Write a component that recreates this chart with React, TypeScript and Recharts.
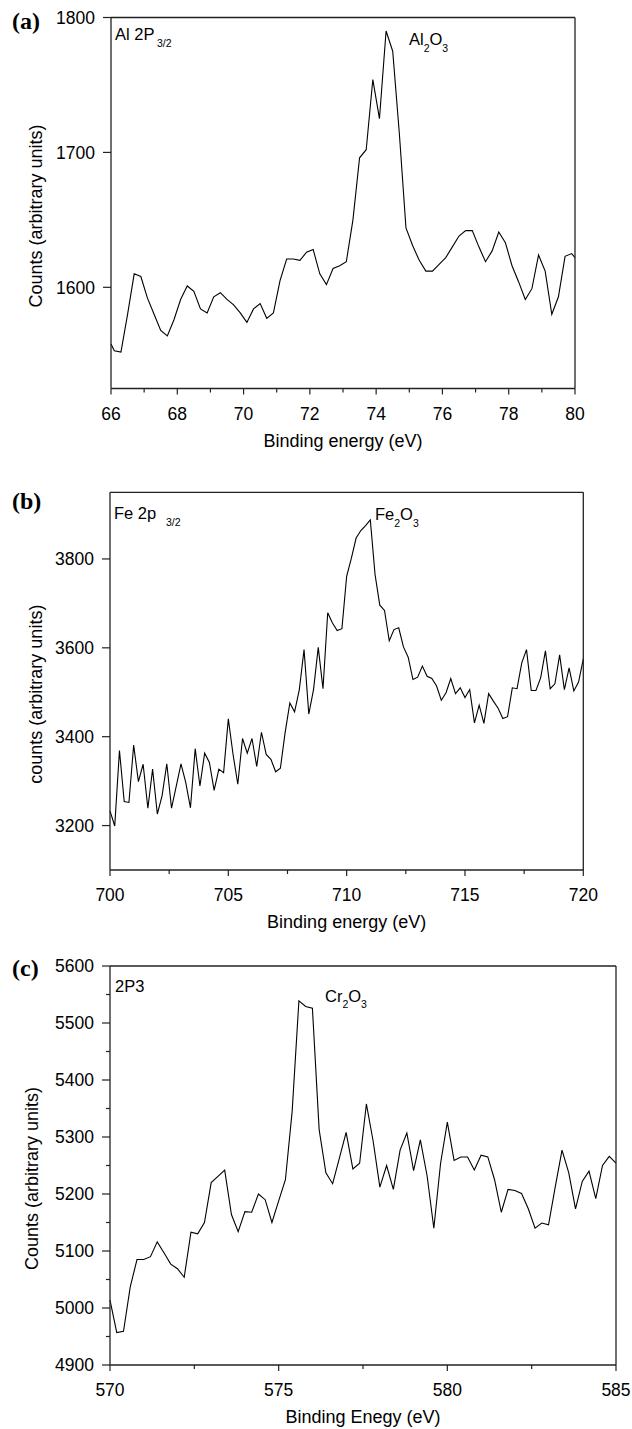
import React from "react";
import { LineChart, Line, XAxis, YAxis } from "recharts";

// (a) Al 2p region
const AL_EV = [
  66.0, 66.1, 66.3, 66.5, 66.7, 66.9, 67.1, 67.3, 67.5, 67.7, 67.9, 68.1, 68.3, 68.5, 68.7, 68.9,
  69.1, 69.3, 69.5, 69.7, 69.9, 70.1, 70.3, 70.5, 70.7, 70.9, 71.1, 71.3, 71.5, 71.7, 71.9, 72.1,
  72.3, 72.5, 72.7, 72.9, 73.1, 73.3, 73.5, 73.7, 73.9, 74.1, 74.3, 74.5, 74.7, 74.9, 75.1, 75.3,
  75.5, 75.7, 75.9, 76.1, 76.3, 76.5, 76.7, 76.9, 77.1, 77.3, 77.5, 77.7, 77.9, 78.1, 78.3, 78.5,
  78.7, 78.9, 79.1, 79.3, 79.5, 79.7, 79.9, 80.0,
];
const AL_COUNTS = [
  1558, 1553, 1552, 1580, 1610, 1608, 1592, 1580, 1568, 1564, 1576, 1591, 1601, 1597, 1584, 1581,
  1593, 1596, 1591, 1587, 1581, 1574, 1584, 1588, 1577, 1581, 1605, 1621, 1621, 1620, 1626, 1628,
  1610, 1602, 1614, 1616, 1619, 1650, 1696, 1702, 1754, 1725, 1790, 1775, 1714, 1644, 1631, 1620,
  1612, 1612, 1617, 1622, 1630, 1638, 1642, 1642, 1630, 1619, 1627, 1641, 1633, 1616, 1604, 1591,
  1599, 1624, 1612, 1580, 1593, 1623, 1625, 1622,
];

// (b) Fe 2p region
const FE_EV = [
  700.0, 700.2, 700.4, 700.6, 700.8, 701.0, 701.2, 701.4, 701.6, 701.8, 702.0, 702.2, 702.4, 702.6,
  702.8, 703.0, 703.2, 703.4, 703.6, 703.8, 704.0, 704.2, 704.4, 704.6, 704.8, 705.0, 705.2, 705.4,
  705.6, 705.8, 706.0, 706.2, 706.4, 706.6, 706.8, 707.0, 707.2, 707.4, 707.6, 707.8, 708.0, 708.2,
  708.4, 708.6, 708.8, 709.0, 709.2, 709.4, 709.6, 709.8, 710.0, 710.2, 710.4, 710.6, 710.8, 711.0,
  711.2, 711.4, 711.6, 711.8, 712.0, 712.2, 712.4, 712.6, 712.8, 713.0, 713.2, 713.4, 713.6, 713.8,
  714.0, 714.2, 714.4, 714.6, 714.8, 715.0, 715.2, 715.4, 715.6, 715.8, 716.0, 716.2, 716.4, 716.6,
  716.8, 717.0, 717.2, 717.4, 717.6, 717.8, 718.0, 718.2, 718.4, 718.6, 718.8, 719.0, 719.2, 719.4,
  719.6, 719.8, 720.0,
];
const FE_COUNTS = [
  3233, 3199, 3369, 3254, 3252, 3381, 3299, 3338, 3239, 3327, 3226, 3267, 3339, 3239,
  3289, 3339, 3297, 3240, 3373, 3289, 3363, 3342, 3279, 3327, 3319, 3440, 3360, 3293,
  3396, 3363, 3396, 3333, 3410, 3360, 3349, 3321, 3329, 3409, 3476, 3456, 3506, 3596,
  3451, 3506, 3601, 3508, 3679, 3656, 3639, 3643, 3761, 3802, 3847, 3864, 3875, 3888,
  3765, 3696, 3684, 3616, 3641, 3645, 3602, 3579, 3529, 3534, 3559, 3536, 3531, 3514,
  3482, 3499, 3531, 3497, 3510, 3488, 3506, 3431, 3471, 3430, 3497, 3480, 3464, 3441,
  3445, 3510, 3508, 3566, 3596, 3504, 3504, 3533, 3593, 3508, 3519, 3584, 3506, 3555,
  3503, 3523, 3575,
];

// (c) Cr 2p region
const CR_EV = [
  570.0, 570.2, 570.4, 570.6, 570.8, 571.0, 571.2, 571.4, 571.6, 571.8, 572.0, 572.2, 572.4, 572.6,
  572.8, 573.0, 573.2, 573.4, 573.6, 573.8, 574.0, 574.2, 574.4, 574.6, 574.8, 575.0, 575.2, 575.4,
  575.6, 575.8, 576.0, 576.2, 576.4, 576.6, 576.8, 577.0, 577.2, 577.4, 577.6, 577.8, 578.0, 578.2,
  578.4, 578.6, 578.8, 579.0, 579.2, 579.4, 579.6, 579.8, 580.0, 580.2, 580.4, 580.6, 580.8, 581.0,
  581.2, 581.4, 581.6, 581.8, 582.0, 582.2, 582.4, 582.6, 582.8, 583.0, 583.2, 583.4, 583.6, 583.8,
  584.0, 584.2, 584.4, 584.6, 584.8, 585.0,
];
const CR_COUNTS = [
  5014, 4957, 4959, 5037, 5085, 5085, 5090, 5116, 5097, 5077, 5069, 5054, 5133, 5130,
  5150, 5220, 5231, 5242, 5164, 5134, 5169, 5168, 5200, 5190, 5150, 5188, 5225, 5345,
  5539, 5529, 5526, 5313, 5237, 5218, 5263, 5308, 5244, 5254, 5358, 5293, 5212, 5250,
  5208, 5277, 5307, 5241, 5295, 5232, 5140, 5254, 5326, 5259, 5265, 5265, 5242, 5268,
  5265, 5225, 5168, 5208, 5206, 5201, 5174, 5140, 5149, 5146, 5213, 5277, 5237, 5174,
  5222, 5240, 5192, 5250, 5266, 5254,
];

// ticks
const AL_X_TICKS = [66, 67, 68, 69, 70, 71, 72, 73, 74, 75, 76, 77, 78, 79, 80];
const AL_X_LABELS = [66, 68, 70, 72, 74, 76, 78, 80];
const AL_Y_TICKS = [1600, 1700, 1800];
const FE_X_TICKS = [700, 702.5, 705, 707.5, 710, 712.5, 715, 717.5, 720];
const FE_X_LABELS = [700, 705, 710, 715, 720];
const FE_Y_TICKS = [3200, 3400, 3600, 3800];
const CR_X_TICKS = [570, 572.5, 575, 577.5, 580, 582.5, 585];
const CR_X_LABELS = [570, 575, 580, 585];
const CR_Y_TICKS = [4900, 4950, 5000, 5050, 5100, 5150, 5200, 5250, 5300, 5350, 5400, 5450, 5500, 5550, 5600];
const CR_Y_LABELS = [4900, 5000, 5100, 5200, 5300, 5400, 5500, 5600];

const FONT = "Liberation Sans, Arial, Helvetica, sans-serif";
const SERIF = "Liberation Serif, Times New Roman, serif";
const AXIS = "#222";
const W = 632;

function toRows(ev: number[], counts: number[]) {
  return ev.map((e, i) => ({ e, c: counts[i] }));
}

const xTick = (labels: number[]) => (props: any) => {
  const { x, y, payload } = props;
  const major = labels.includes(payload.value);
  return (
    <g>
      <line x1={x} x2={x} y1={y} y2={y + (major ? 6 : 4)} stroke={AXIS} strokeWidth={1.2} />
      {major && (
        <text x={x} y={y + 31} textAnchor="middle" fontSize={17.5} fontFamily={FONT} fill="#000">
          {payload.value}
        </text>
      )}
    </g>
  );
};

const yTick = (labels: number[]) => (props: any) => {
  const { x, y, payload } = props;
  const major = labels.includes(payload.value);
  return (
    <g>
      <line x1={x} x2={x - (major ? 8 : 4)} y1={y} y2={y} stroke={AXIS} strokeWidth={1.2} />
      {major && (
        <text x={x - 16} y={y + 6.3} textAnchor="end" fontSize={17.5} fontFamily={FONT} fill="#000">
          {payload.value}
        </text>
      )}
    </g>
  );
};

interface PanelProps {
  top: number;
  height: number;
  plot: { left: number; top: number; right: number; bottom: number };
  data: { e: number; c: number }[];
  xDomain: [number, number];
  yDomain: [number, number];
  xTicks: number[];
  xLabels: number[];
  yTicks: number[];
  yLabels: number[];
  xTitle: string;
  yTitle: string;
  yTitleX: number;
}

function Panel(p: PanelProps) {
  const xAxisH = p.top + p.height - p.plot.bottom;
  return (
    <div style={{ position: "absolute", left: 0, top: p.top }}>
      <LineChart
        width={W}
        height={p.height}
        data={p.data}
        margin={{ top: p.plot.top - p.top - 1, right: W - p.plot.right - 1, bottom: 0, left: 0 }}
      >
        <XAxis
          dataKey="e"
          type="number"
          domain={p.xDomain}
          ticks={p.xTicks}
          interval={0}
          height={xAxisH}
          tickSize={0}
          tickMargin={0}
          tickLine={false}
          axisLine={{ stroke: AXIS, strokeWidth: 1.3 }}
          tick={xTick(p.xLabels)}
          label={{
            content: (lp: any) => {
              const vb = lp.viewBox || {};
              return (
                <text x={vb.x + vb.width / 2} y={vb.y + 58} textAnchor="middle" fontSize={18} fontFamily={FONT} fill="#000">
                  {p.xTitle}
                </text>
              );
            },
          }}
        />
        <XAxis
          xAxisId="top"
          orientation="top"
          dataKey="e"
          type="number"
          domain={p.xDomain}
          height={1}
          tick={false}
          tickLine={false}
          axisLine={{ stroke: AXIS, strokeWidth: 1.3 }}
        />
        <YAxis
          type="number"
          domain={p.yDomain}
          ticks={p.yTicks}
          interval={0}
          width={p.plot.left}
          tickSize={0}
          tickMargin={0}
          tickLine={false}
          axisLine={{ stroke: AXIS, strokeWidth: 1.3 }}
          tick={yTick(p.yLabels)}
          label={{
            content: (lp: any) => {
              const vb = lp.viewBox || {};
              const cy = vb.y + vb.height / 2 + 13;
              return (
                <text
                  x={p.yTitleX}
                  y={cy}
                  transform={`rotate(-90, ${p.yTitleX}, ${cy})`}
                  textAnchor="middle"
                  fontSize={18}
                  fontFamily={FONT}
                  fill="#000"
                >
                  {p.yTitle}
                </text>
              );
            },
          }}
        />
        <YAxis
          yAxisId="right"
          orientation="right"
          type="number"
          domain={p.yDomain}
          width={1}
          tick={false}
          tickLine={false}
          axisLine={{ stroke: AXIS, strokeWidth: 1.3 }}
        />
        <Line type="linear" dataKey="c" stroke="#000" strokeWidth={1.1} dot={false} isAnimationActive={false} />
        <Line xAxisId="top" yAxisId="right" type="linear" dataKey="c" stroke="none" dot={false} legendType="none" isAnimationActive={false} />
      </LineChart>
    </div>
  );
}

function Sub({ x, y, main, sub }: { x: number; y: number; main: string[]; sub: string[] }) {
  // alternating main text and subscripts
  return (
    <text x={x} y={y} fontSize={16.5} fontFamily={FONT} fill="#000">
      {main.map((m, i) => (
        <React.Fragment key={i}>
          <tspan dy={i === 0 ? 0 : -6.5}>{m}</tspan>
          {sub[i] !== undefined && (
            <tspan dy={6.5} fontSize={10.5}>
              {sub[i]}
            </tspan>
          )}
        </React.Fragment>
      ))}
    </text>
  );
}

export default function App() {
  return (
    <div style={{ position: "absolute", left: 0, top: 0, width: W, height: 1429, background: "#fff" }}>
      <Panel
        top={0}
        height={470}
        plot={{ left: 111, top: 17.5, right: 575, bottom: 388.5 }}
        data={toRows(AL_EV, AL_COUNTS)}
        xDomain={[66, 80]}
        yDomain={[1525, 1800]}
        xTicks={AL_X_TICKS}
        xLabels={AL_X_LABELS}
        yTicks={AL_Y_TICKS}
        yLabels={AL_Y_TICKS}
        xTitle="Binding energy (eV)"
        yTitle="Counts (arbitrary units)"
        yTitleX={41.5}
      />
      <Panel
        top={470}
        height={475}
        plot={{ left: 110, top: 492.3, right: 583.3, bottom: 870 }}
        data={toRows(FE_EV, FE_COUNTS)}
        xDomain={[700, 720]}
        yDomain={[3100, 3950]}
        xTicks={FE_X_TICKS}
        xLabels={FE_X_LABELS}
        yTicks={FE_Y_TICKS}
        yLabels={FE_Y_TICKS}
        xTitle="Binding energy (eV)"
        yTitle="counts (arbitrary units)"
        yTitleX={42}
      />
      <Panel
        top={945}
        height={484}
        plot={{ left: 110, top: 966, right: 616, bottom: 1365 }}
        data={toRows(CR_EV, CR_COUNTS)}
        xDomain={[570, 585]}
        yDomain={[4900, 5600]}
        xTicks={CR_X_TICKS}
        xLabels={CR_X_LABELS}
        yTicks={CR_Y_TICKS}
        yLabels={CR_Y_LABELS}
        xTitle="Binding Enegy (eV)"
        yTitle="Counts (arbitrary units)"
        yTitleX={38}
      />
      <svg width={W} height={1429} style={{ position: "absolute", left: 0, top: 0, pointerEvents: "none" }}>
        <text x={12} y={29} fontSize={24} fontWeight="bold" fontFamily={SERIF}>(a)</text>
        <text x={12} y={509} fontSize={24} fontWeight="bold" fontFamily={SERIF}>(b)</text>
        <text x={12} y={976} fontSize={24} fontWeight="bold" fontFamily={SERIF}>(c)</text>

        <text x={115} y={40} fontSize={16.5} fontFamily={FONT}>Al 2P</text>
        <text x={157} y={47} fontSize={10.5} fontFamily={FONT}>3/2</text>
        <Sub x={409} y={45} main={["Al", "O"]} sub={["2", "3"]} />

        <text x={114} y={519} fontSize={16.5} fontFamily={FONT}>Fe 2p</text>
        <text x={166} y={526} fontSize={10.5} fontFamily={FONT}>3/2</text>
        <Sub x={375} y={520} main={["Fe", "O"]} sub={["2", "3"]} />

        <text x={115} y={991.5} fontSize={16.5} fontFamily={FONT}>2P3</text>
        <Sub x={325} y={1001.5} main={["Cr", "O"]} sub={["2", "3"]} />
      </svg>
    </div>
  );
}
